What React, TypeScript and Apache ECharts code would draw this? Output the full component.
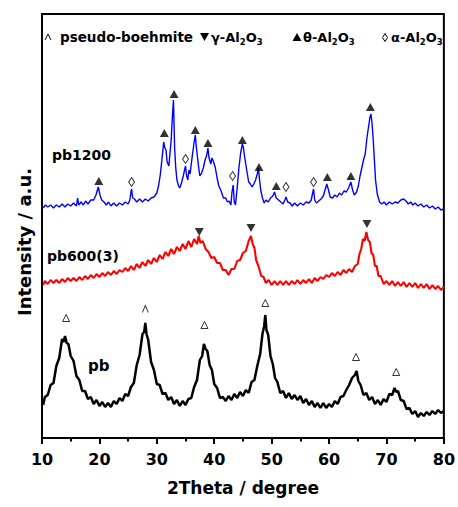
import React, { useEffect, useRef } from "react";
import * as echarts from "echarts";

// 2θ (degree) and intensity (a.u., curves offset), noise included
const pb1200Theta = [10.2, 10.6, 11, 11.5, 12, 12.5, 13, 13.5, 14, 14.5, 15, 15.5, 16, 16.2, 16.4, 16.8, 17.2, 17.6, 18, 18.5, 19, 19.4, 19.8, 20.1, 20.4, 20.8, 21.2, 21.6, 22, 22.5, 23, 23.5, 24, 24.5, 25, 25.3, 25.5, 25.6, 25.8, 26.1, 26.5, 27, 27.5, 28, 28.5, 29, 29.5, 30, 30.3, 30.6, 30.9, 31.2, 31.4, 31.6, 31.8, 32.1, 32.3, 32.5, 32.7, 32.9, 33.1, 33.3, 33.5, 33.8, 34.0, 34.3, 34.6, 35.0, 35.2, 35.4, 35.6, 35.8, 36.0, 36.2, 36.5, 36.7, 36.9, 37.1, 37.3, 37.5, 37.8, 38.1, 38.4, 38.7, 38.9, 39.1, 39.4, 39.6, 39.9, 40.2, 40.5, 40.8, 41.2, 41.6, 42.0, 42.3, 42.6, 42.9, 43.1, 43.3, 43.5, 43.7, 44.0, 44.3, 44.6, 44.9, 45.1, 45.3, 45.6, 46.0, 46.3, 46.6, 46.9, 47.2, 47.5, 47.7, 47.9, 48.1, 48.4, 48.7, 49.0, 49.4, 49.8, 50.2, 50.5, 50.8, 51.2, 51.6, 52.0, 52.3, 52.5, 52.8, 53.2, 53.6, 54, 54.5, 55, 55.5, 56, 56.5, 56.9, 57.1, 57.3, 57.5, 57.8, 58.2, 58.6, 59.0, 59.3, 59.6, 59.9, 60.2, 60.6, 61.0, 61.4, 61.8, 62.2, 62.6, 63.0, 63.4, 63.8, 64.1, 64.4, 64.8, 65.1, 65.4, 65.7, 66.0, 66.3, 66.6, 66.9, 67.1, 67.3, 67.5, 67.7, 67.9, 68.1, 68.4, 68.8, 69.2, 69.6, 70, 70.5, 71, 71.5, 72, 72.5, 73, 73.4, 73.8, 74.2, 74.6, 75, 75.5, 76, 76.5, 77, 77.5, 78, 78.5, 79, 79.5, 80];
const pb1200Int = [230, 233, 231, 233, 230, 233, 231, 234, 231, 234, 232, 235, 232, 240, 233, 236, 233, 237, 234, 238, 238, 243, 251, 243, 238, 236, 233, 236, 232, 235, 232, 235, 233, 236, 234, 238, 246, 249, 240, 239, 236, 239, 236, 239, 237, 240, 241, 245, 252, 263, 279, 296, 290, 288, 276, 272, 285, 298, 320, 338, 290, 270, 258, 252, 250, 255, 262, 272, 262, 258, 268, 264, 274, 283, 296, 303, 290, 280, 270, 262, 265, 270, 278, 283, 290, 280, 274, 280, 276, 270, 260, 252, 247, 240, 240, 236, 237, 233, 246, 253, 236, 233, 250, 270, 285, 294, 290, 281, 270, 256, 254, 251, 254, 258, 264, 270, 258, 248, 240, 235, 238, 236, 240, 242, 246, 240, 238, 236, 234, 238, 241, 236, 235, 232, 235, 232, 235, 233, 236, 235, 238, 244, 249, 238, 235, 237, 239, 242, 248, 254, 248, 241, 240, 243, 241, 245, 243, 247, 246, 250, 256, 248, 243, 246, 252, 262, 270, 278, 284, 300, 312, 320, 324, 314, 298, 278, 258, 244, 236, 234, 236, 233, 236, 234, 236, 235, 238, 239, 237, 234, 236, 233, 235, 232, 234, 231, 233, 230, 232, 229, 231, 228, 229];

const pb600Theta = [10.2, 10.5, 11, 11.5, 12, 12.5, 13, 13.5, 14, 14.5, 15, 15.5, 16, 16.5, 17, 17.5, 18, 18.5, 19, 19.5, 20, 20.5, 21, 21.5, 22, 22.5, 23, 23.5, 24, 24.5, 25, 25.5, 26, 26.5, 27, 27.5, 28, 28.5, 29, 29.5, 30, 30.5, 31, 31.5, 32, 32.5, 33, 33.5, 34, 34.5, 35, 35.5, 36, 36.5, 37, 37.3, 37.6, 38, 38.5, 39, 39.5, 40, 40.5, 41, 41.5, 42, 42.5, 43, 43.5, 44, 44.5, 45, 45.5, 46, 46.4, 46.7, 47, 47.3, 47.7, 48.2, 48.6, 49, 49.5, 50, 50.5, 51, 51.5, 52, 52.5, 53, 53.5, 54, 54.5, 55, 55.5, 56, 56.5, 57, 57.5, 58, 58.5, 59, 59.5, 60, 60.5, 61, 61.5, 62, 62.5, 63, 63.5, 64, 64.5, 65, 65.3, 65.6, 65.9, 66.2, 66.5, 66.8, 67.1, 67.4, 67.7, 68, 68.3, 68.6, 69, 69.5, 70, 70.5, 71, 71.5, 72, 72.5, 73, 73.5, 74, 74.5, 75, 75.5, 76, 76.5, 77, 77.5, 78, 78.5, 79, 79.5, 80];
const pb600Int = [153, 157, 154, 158, 155, 158, 155, 159, 156, 160, 157, 160, 157, 161, 158, 162, 159, 163, 160, 164, 161, 165, 162, 166, 163, 167, 164, 168, 166, 170, 167, 172, 168, 174, 170, 176, 172, 178, 174, 180, 176, 183, 179, 186, 182, 189, 184, 191, 187, 194, 189, 197, 191, 199, 194, 202, 195, 197, 189, 186, 180, 181, 175, 175, 168, 168, 163, 169, 169, 177, 178, 185, 187, 197, 202, 194, 190, 178, 172, 162, 161, 155, 158, 153, 157, 153, 157, 153, 157, 153, 157, 154, 158, 154, 158, 155, 159, 155, 160, 157, 161, 159, 163, 161, 165, 162, 166, 163, 168, 165, 169, 166, 172, 174, 184, 189, 199, 197, 206, 198, 196, 185, 183, 172, 172, 162, 162, 154, 157, 153, 157, 152, 156, 152, 156, 151, 155, 151, 155, 150, 154, 150, 154, 149, 153, 149, 152, 148, 151];

const pbTheta = [10.2, 10.5, 11.0, 11.5, 12.0, 12.5, 13.0, 13.5, 13.8, 14.0, 14.3, 14.6, 15.0, 15.5, 16.0, 16.5, 17.0, 17.5, 18.0, 18.5, 19.0, 19.5, 20.0, 20.5, 21.0, 21.5, 22.0, 22.5, 23.0, 23.5, 24.0, 24.5, 25.0, 25.5, 26.0, 26.5, 27.0, 27.5, 27.8, 28.0, 28.2, 28.5, 29.0, 29.5, 30.0, 30.5, 31.0, 31.5, 32.0, 32.5, 33.0, 33.5, 34.0, 34.5, 35.0, 35.5, 36.0, 36.5, 37.0, 37.5, 37.9, 38.2, 38.5, 38.8, 39.2, 39.6, 40.0, 40.5, 41.0, 41.5, 42.0, 42.5, 43.0, 43.5, 44.0, 44.5, 45.0, 45.5, 46.0, 46.5, 47.0, 47.5, 48.0, 48.4, 48.7, 48.9, 49.1, 49.4, 49.8, 50.2, 50.6, 51.0, 51.5, 52.0, 52.5, 53.0, 53.5, 54.0, 54.5, 55.0, 55.5, 56.0, 56.5, 57.0, 57.5, 58.0, 58.5, 59.0, 59.5, 60.0, 60.5, 61.0, 61.5, 62.0, 62.5, 63.0, 63.5, 64.0, 64.5, 64.8, 65.1, 65.5, 66.0, 66.5, 67.0, 67.5, 68.0, 68.5, 69.0, 69.5, 70.0, 70.5, 71.0, 71.4, 71.7, 72.0, 72.5, 73.0, 73.5, 74.0, 74.5, 75.0, 75.5, 76.0, 76.5, 77.0, 77.5, 78.0, 78.5, 79.0, 79.5, 80.0];
const pbInt = [33, 41, 43, 53, 55, 72, 80, 99, 96, 102, 95, 94, 82, 77, 62, 58, 47, 47, 39, 41, 34, 38, 32, 36, 31, 35, 31, 37, 34, 40, 37, 44, 42, 51, 55, 73, 83, 104, 106, 115, 104, 98, 76, 68, 54, 53, 44, 45, 38, 41, 34, 38, 32, 37, 33, 39, 40, 51, 58, 78, 82, 94, 89, 87, 73, 68, 54, 50, 40, 41, 37, 42, 38, 44, 40, 46, 42, 48, 45, 56, 58, 72, 84, 104, 112, 123, 108, 103, 82, 74, 60, 56, 45, 47, 40, 45, 39, 43, 38, 42, 35, 39, 33, 37, 31, 35, 30, 35, 30, 34, 31, 37, 34, 41, 42, 48, 53, 60, 63, 67, 57, 53, 43, 45, 38, 41, 34, 38, 33, 39, 36, 44, 43, 50, 46, 47, 38, 37, 29, 30, 24, 27, 21, 25, 22, 26, 23, 27, 24, 28, 25, 27];

// peak markers [2θ, marker height]
const thetaPeaks = [[19.9, 257], [31.3, 305], [33.0, 344], [36.7, 308], [38.9, 295], [44.9, 298], [47.8, 271], [50.8, 252], [59.7, 261], [63.8, 262], [67.2, 331]];
const alphaPeaks = [[25.6, 256], [35.0, 279], [43.2, 262], [52.5, 251], [57.3, 256]];
const gammaPeaks = [[37.4, 206], [46.4, 210], [66.6, 214]];
const boehmitePeaks = [[14.2, 120], [38.3, 113], [48.9, 135], [64.7, 81], [71.7, 66]];
const boehmiteCaret = [[28.0, 129]];

const xTicks = [10, 20, 30, 40, 50, 60, 70, 80];
const FONT = "DejaVu Sans";

export default function App() {
  const ref = useRef<HTMLDivElement>(null);
  useEffect(() => {
    if (!ref.current) return;
    const chart = echarts.init(ref.current, undefined, { renderer: "svg" });
    const pair = (xs: number[], ys: number[]) => xs.map((x, i) => [x, ys[i]]);
    const sub = { fontSize: 8.5, fontWeight: "bold", fontFamily: FONT, padding: [9, 0, 0, 0], fill: "#000" };
    const main = { fontSize: 13, fontWeight: "bold", fontFamily: FONT, fill: "#000" };
    chart.setOption({
      animation: false,
      backgroundColor: "#fff",
      grid: { left: 42, right: 6, top: 14, bottom: 69, show: true, borderColor: "#000", borderWidth: 2, backgroundColor: "transparent" },
      xAxis: {
        type: "value",
        min: xTicks[0],
        max: xTicks[xTicks.length - 1],
        interval: 10,
        axisLine: { lineStyle: { color: "#000", width: 2 } },
        axisTick: { inside: false, length: 6, lineStyle: { color: "#000", width: 2 } },
        minorTick: { show: true, splitNumber: 2, length: 3.5, lineStyle: { color: "#000", width: 2 } },
        splitLine: { show: false },
        axisLabel: { color: "#000", fontSize: 16, fontWeight: "bold", fontFamily: FONT, margin: 13 },
        name: "2Theta / degree",
        nameLocation: "middle",
        nameGap: 41,
        nameTextStyle: { color: "#000", fontSize: 17, fontWeight: "bold", fontFamily: FONT },
      },
      yAxis: {
        type: "value",
        min: 0,
        max: 424,
        show: false,
      },
      series: [
        { type: "line", data: pair(pb1200Theta, pb1200Int), showSymbol: false, lineStyle: { color: "#0000ff", width: 1.4 }, z: 2 },
        { type: "line", data: pair(pb600Theta, pb600Int), showSymbol: false, lineStyle: { color: "#ff0000", width: 2.1 }, z: 2 },
        { type: "line", data: pair(pbTheta, pbInt), showSymbol: false, lineStyle: { color: "#000", width: 2.5 }, z: 2 },
        { type: "scatter", data: thetaPeaks, symbol: "triangle", symbolSize: [9, 8], itemStyle: { color: "#000" }, z: 5 },
        { type: "scatter", data: gammaPeaks, symbol: "triangle", symbolRotate: 180, symbolSize: [9, 8], itemStyle: { color: "#000" }, z: 5 },
        { type: "scatter", data: alphaPeaks, symbol: "diamond", symbolSize: [6, 9], itemStyle: { color: "#fff", borderColor: "#000", borderWidth: 1 }, z: 5 },
        { type: "scatter", data: boehmitePeaks, symbol: "triangle", symbolSize: [7, 7], itemStyle: { color: "#fff", borderColor: "#000", borderWidth: 1 }, z: 5 },
        { type: "scatter", data: boehmiteCaret, symbol: "path://M0 10L5 0L10 10", symbolSize: [6, 7], itemStyle: { color: "none", borderColor: "#000", borderWidth: 1 }, z: 5 },
      ],
      graphic: [
        { type: "text", x: 24, y: 242, rotation: Math.PI / 2, style: { text: "Intensity / a.u.", fontSize: 18, fontWeight: "bold", fontFamily: FONT, fill: "#000", align: "center", verticalAlign: "middle" } },
        { type: "text", x: 52, y: 155, style: { text: "pb1200", fontSize: 14, fontWeight: "bold", fontFamily: FONT, fill: "#000", verticalAlign: "middle" } },
        { type: "text", x: 47, y: 256, style: { text: "pb600(3)", fontSize: 14, fontWeight: "bold", fontFamily: FONT, fill: "#000", verticalAlign: "middle" } },
        { type: "text", x: 88, y: 366, style: { text: "pb", fontSize: 15, fontWeight: "bold", fontFamily: FONT, fill: "#000", verticalAlign: "middle" } },
        // legend
        { type: "polyline", shape: { points: [[45, 40], [48, 34], [51, 40]] }, style: { stroke: "#000", lineWidth: 1, fill: "none" } },
        { type: "text", x: 60, y: 37, style: { text: "pseudo-boehmite", fontSize: 13.5, fontWeight: "bold", fontFamily: FONT, fill: "#000", verticalAlign: "middle" } },
        { type: "polygon", shape: { points: [[200, 33], [209, 33], [204.5, 41]] }, style: { fill: "#000" } },
        { type: "text", x: 211, y: 37, style: { text: "{m|γ-Al}{s|2}{m|O}{s|3}", verticalAlign: "middle", rich: { m: main, s: sub } } },
        { type: "polygon", shape: { points: [[292.5, 41], [301.5, 41], [297, 33]] }, style: { fill: "#000" } },
        { type: "text", x: 303, y: 37, style: { text: "{m|θ-Al}{s|2}{m|O}{s|3}", verticalAlign: "middle", rich: { m: main, s: sub } } },
        { type: "polygon", shape: { points: [[385, 33.5], [387.5, 37.5], [385, 41.5], [382.5, 37.5]] }, style: { fill: "#fff", stroke: "#000", lineWidth: 1 } },
        { type: "text", x: 391, y: 37, style: { text: "{m|α-Al}{s|2}{m|O}{s|3}", verticalAlign: "middle", rich: { m: main, s: sub } } },
      ],
    });
    return () => chart.dispose();
  }, []);
  return <div ref={ref} style={{ width: 458, height: 507, position: "absolute", left: 0, top: 0 }} />;
}
